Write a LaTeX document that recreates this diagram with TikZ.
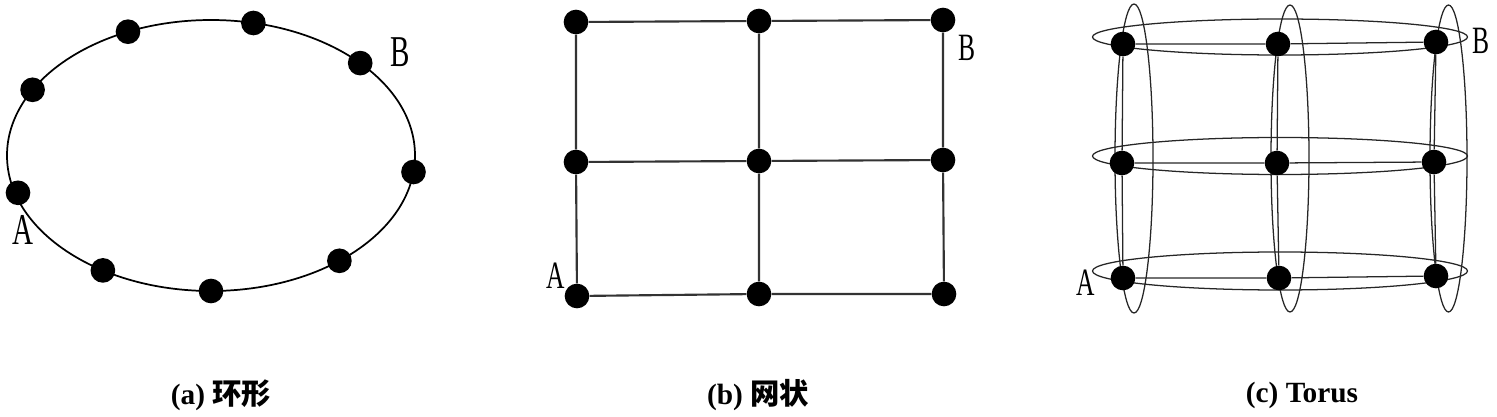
\documentclass[tikz,border=0pt]{standalone}
\usepackage{fontspec}
\setmainfont{Liberation Serif}
\newfontfamily\cjk{Noto Sans CJK SC}
\usepackage{tikz}
\usepackage{xcolor}

\newcommand{\lbl}[1]{\scalebox{0.66}[1]{#1}}
\tikzset{
  dot/.style={circle,fill=black,inner sep=0pt,minimum size=18.5pt},
  lab/.style={inner sep=0pt,font=\fontsize{29}{29}\selectfont},
  bigl/.style={inner sep=0pt,font=\fontsize{33}{33}\selectfont},
  captxt/.style={inner sep=0pt,font=\fontsize{22}{22}\selectfont\bfseries},
  ring/.style={line width=1.3pt},
  mesh/.style={line width=1.6pt,black!80},
  tor/.style={line width=0.95pt,black!85}
}

\begin{document}
\begin{tikzpicture}[x=0.75pt,y=0.75pt,yscale=-1,xscale=1]
	\useasboundingbox (0,0) rectangle (1497,417);
	% (a) ring
	\draw[ring] (211,155.5) ellipse (204 and 135.5);
	\node[dot] (r1) at (128.0,31.7) {};
	\node[dot] (r2) at (253.4,23.0) {};
	\node[dot] (r3) at (360.2,63.1) {};
	\node[dot] (r4) at (413.5,172.0) {};
	\node[dot] (r5) at (339.4,260.8) {};
	\node[dot] (r6) at (211,291) {};
	\node[dot] (r7) at (102.9,270.4) {};
	\node[dot] (r8) at (18,192.8) {};
	\node[dot] (r9) at (32.6,89.8) {};
	\node[bigl] (ra) at (23,230) {\lbl{A}};
	\node[bigl] (rb) at (400,52) {\lbl{B}};
	% (b) mesh
	\node[dot] (m11) at (576,22) {};
	\node[dot] (m12) at (759,21) {};
	\node[dot] (m13) at (943,20) {};
	\node[dot] (m21) at (576,162) {};
	\node[dot] (m22) at (759,161) {};
	\node[dot] (m23) at (943,160) {};
	\node[dot] (m31) at (577,296) {};
	\node[dot] (m32) at (759,294) {};
	\node[dot] (m33) at (944,294) {};
	\draw[mesh] (m11) -- (m12) -- (m13) (m21) -- (m22) -- (m23) (m31) -- (m32) -- (m33);
	\draw[mesh] (m11) -- (m21) -- (m31) (m12) -- (m22) -- (m32) (m13) -- (m23) -- (m33);
	\node[lab] (ma) at (556,276) {\lbl{A}};
	\node[lab] (mb) at (967,48) {\lbl{B}};
	% (c) torus
	\draw[tor] (1280,37) ellipse (187.5 and 18);
	\draw[tor] (1280,156) ellipse (187.5 and 18.5);
	\draw[tor] (1280,271) ellipse (187.5 and 19);
	\draw[tor] (1134,158.5) ellipse (19 and 154.5);
	\draw[tor] (1290,158.5) ellipse (19 and 153.5);
	\draw[tor] (1448.5,158.5) ellipse (18.5 and 153.5);
	\node[dot] (t11) at (1123,44) {};
	\node[dot] (t12) at (1278,44) {};
	\node[dot] (t13) at (1436,42) {};
	\node[dot] (t21) at (1122,163) {};
	\node[dot] (t22) at (1277,163) {};
	\node[dot] (t23) at (1434,162) {};
	\node[dot] (t31) at (1123,278) {};
	\node[dot] (t32) at (1279,278) {};
	\node[dot] (t33) at (1436,276) {};
	\draw[tor] (t11) -- (t12) -- (t13) (t21) -- (t22) -- (t23) (t31) -- (t32) -- (t33);
	\draw[tor] (t11) -- (t21) -- (t31) (t12) -- (t22) -- (t32) (t13) -- (t23) -- (t33);
	\node[lab] (ta) at (1086,283) {\lbl{A}};
	\node[lab] (tb) at (1481,41) {\lbl{B}};
	% captions
	\node[captxt] (capa) at (221,395) {(a) {\cjk 环形}};
	\node[captxt] (capb) at (758,395) {(b) {\cjk 网状}};
	\node[captxt] (capc) at (1302,395) {(c) Torus};
\end{tikzpicture}
\end{document}
